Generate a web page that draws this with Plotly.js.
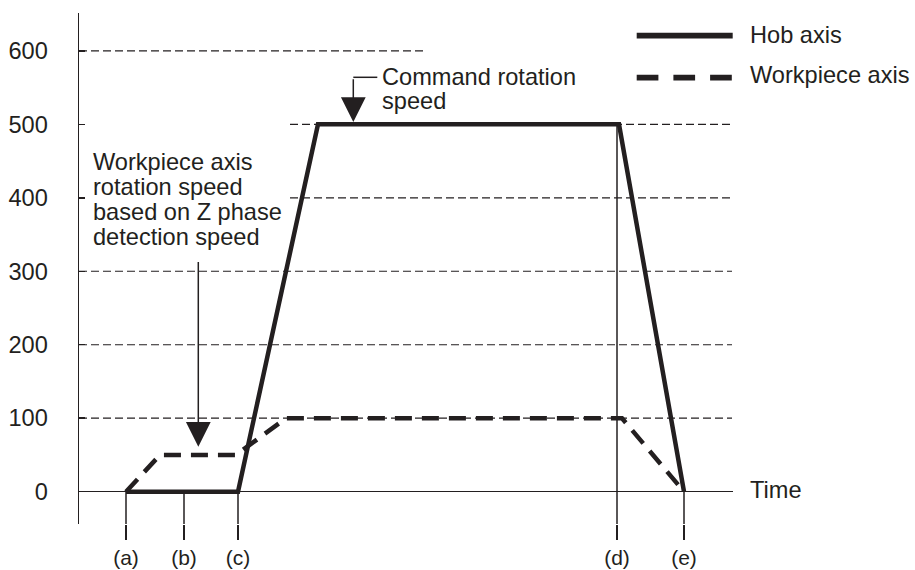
<!DOCTYPE html>
<html>
<head>
<meta charset="utf-8">
<script src="https://cdn.plot.ly/plotly-3.0.1.min.js"></script>
<style>html,body{margin:0;padding:0;background:#fff;}#chart{width:915px;height:570px;}</style>
</head>
<body>
<div id="chart"></div>
<script>
// ---------- data ----------
const timeTicks  = [4.7, 10.5, 15.9, 53.8, 60.5];
const timeLabels = ['(a)', '(b)', '(c)', '(d)', '(e)'];
const markerFrom = [0, 0, 0, 500, 0];          // speed level where each event marker starts
const speedTicks = [0, 100, 200, 300, 400, 500, 600];
const gridLevels = [600, 500, 400, 300, 200, 100];

const hobTime   = [4.7, 15.9, 23.9, 54.0, 60.5];
const hobSpeed  = [0, 0, 500, 500, 0];
const workTime  = [4.7, 8.1, 15.7, 20.7, 54.3, 60.5];
const workSpeed = [0, 50, 50, 100, 100, 0];

const seriesNames = ['Hob axis', 'Workpiece axis'];
const noteZ = ['Workpiece axis', 'rotation speed', 'based on Z phase', 'detection speed'];
const noteCmd = ['Command rotation', 'speed'];
const xTitle = 'Time';

// ---------- layout / style ----------
const INK = '#231f20';
const FONT = 'Liberation Sans, Arial, Helvetica, sans-serif';
const FS = 23.6;
const W = 915, H = 570;
const M = {l: 79, r: 182, t: 13, b: 46};
const PW = W - M.l - M.r, PH = H - M.t - M.b;
const xRange = [0, 65.4];
const yRange = [-44, 651.5];
const gx = px => (px - M.l) / PW;          // pixel -> paper
const gy = py => (H - M.b - py) / PH;

// extents of the dashed guide lines (in time units)
const gridStart = [0, 21.1, 21.1, 0, 0, 0];
const gridEnd   = [34.6, 65.3, 65.3, 65.3, 65.3, 65.3];

const shapes = [];
gridLevels.forEach((lv, i) => {
  shapes.push({type: 'line', xref: 'x', yref: 'y', layer: 'below',
    x0: gridStart[i], x1: gridEnd[i], y0: lv, y1: lv,
    line: {color: INK, width: 1.2, dash: '8px,4px'}});
});
timeTicks.forEach((t, i) => {
  shapes.push({type: 'line', xref: 'x', yref: 'y', layer: 'below',
    x0: t, x1: t, y0: markerFrom[i], y1: yRange[0],
    line: {color: INK, width: 1.5}});
});
// legend samples
shapes.push({type: 'line', xref: 'paper', yref: 'paper',
  x0: gx(636.7), x1: gx(732.7), y0: gy(35.7), y1: gy(35.7),
  line: {color: INK, width: 5.7}});
shapes.push({type: 'line', xref: 'paper', yref: 'paper',
  x0: gx(636.7), x1: gx(732.7), y0: gy(77.7), y1: gy(77.7),
  line: {color: INK, width: 5.7, dash: '21.7px,15px'}});
// elbow of the command-speed arrow
shapes.push({type: 'line', xref: 'paper', yref: 'paper',
  x0: gx(353.3), x1: gx(377.3), y0: gy(77.3), y1: gy(77.3),
  line: {color: INK, width: 1.5}});

const txt = (s, px, py) => ({text: s, xref: 'paper', yref: 'paper', x: gx(px), y: gy(py),
  xanchor: 'left', yanchor: 'middle', showarrow: false,
  font: {family: FONT, size: FS, color: INK}});

const annotations = [];
noteZ.forEach((s, i) => annotations.push(txt(s, 90.5, [161.8, 186.8, 212.3, 237.3][i])));
noteCmd.forEach((s, i) => annotations.push(txt(s, 379.5, [77.5, 101.5][i])));
annotations.push(txt(seriesNames[0], 748, 35.3));
annotations.push(txt(seriesNames[1], 748, 75));
annotations.push(txt(xTitle, 748, 490));

const arrow = (px, tipY, tailY) => ({text: ' ', xref: 'paper', yref: 'paper',
  x: gx(px), y: gy(tipY), ax: 0, ay: tailY - tipY, showarrow: true,
  arrowhead: 2, arrowsize: 3.3, arrowwidth: 1.5, arrowcolor: INK, standoff: 0,
  font: {size: 1}});
annotations.push(arrow(353.3, 122, 77.3));
annotations.push(arrow(198.3, 446.7, 260));

const traces = [
  {x: hobTime, y: hobSpeed, name: seriesNames[0], type: 'scatter', mode: 'lines',
   line: {color: INK, width: 4.5}, cliponaxis: false},
  {x: workTime, y: workSpeed, name: seriesNames[1], type: 'scatter', mode: 'lines',
   line: {color: INK, width: 4.5, dash: '17px,10px'}, cliponaxis: false}
];

const layout = {
  width: W, height: H, margin: M,
  paper_bgcolor: '#fff', plot_bgcolor: '#fff',
  showlegend: false,
  font: {family: FONT, size: FS, color: INK},
  xaxis: {range: xRange, showgrid: false, zeroline: false, showline: false,
    tickmode: 'array', tickvals: timeTicks, ticktext: timeLabels,
    ticks: 'outside', ticklen: 15, tickwidth: 1.5, tickcolor: INK,
    tickfont: {family: FONT, size: 21, color: INK}, fixedrange: true},
  yaxis: {range: yRange, showgrid: false, zeroline: true, zerolinecolor: INK, zerolinewidth: 1.5,
    showline: true, linecolor: INK, linewidth: 1.5,
    tickmode: 'array', tickvals: speedTicks, ticktext: speedTicks.map(String),
    ticks: 'inside', ticklen: 6, tickwidth: 1.5, tickcolor: INK,
    ticklabelstandoff: 25,
    tickfont: {family: FONT, size: FS, color: INK}, fixedrange: true},
  shapes: shapes,
  annotations: annotations
};

Plotly.newPlot('chart', traces, layout, {displayModeBar: false, staticPlot: true});
</script>
</body>
</html>
